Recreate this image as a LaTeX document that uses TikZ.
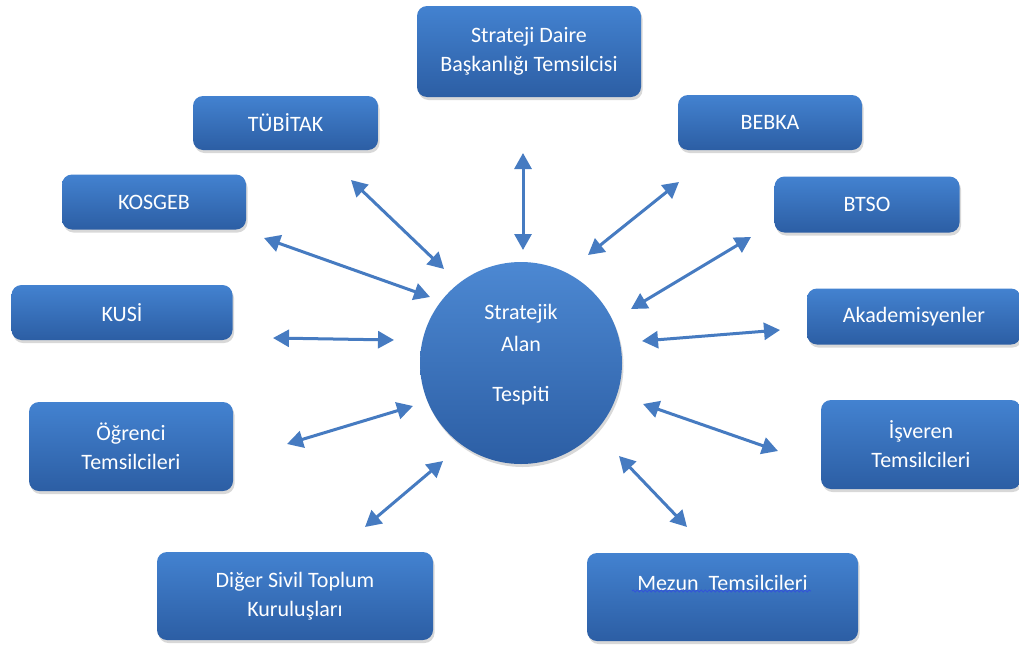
\documentclass[tikz,border=0pt]{standalone}
\usepackage{fontspec}
\setmainfont{Carlito}
\usetikzlibrary{arrows.meta,shadows,decorations.pathmorphing}
\definecolor{boxtop}{HTML}{4382D0}
\definecolor{boxbot}{HTML}{2C5EA4}
\definecolor{arr}{HTML}{467BC1}
\definecolor{wavy}{HTML}{3355D8}
\begin{document}
\begin{tikzpicture}[x=1pt,y=-1pt,
  box/.style={draw=none, rounded corners=10pt, top color=boxtop, bottom color=boxbot,
    text=white, font=\fontsize{22}{29}\selectfont, align=center, inner sep=0pt,
    drop shadow={opacity=0.3, shadow xshift=1.5pt, shadow yshift=-3pt}},
  circ/.style={circle, draw=none, inner sep=0pt, minimum size=202pt, top color=boxtop!95!white, bottom color=boxbot,
    drop shadow={opacity=0.3, shadow xshift=1.5pt, shadow yshift=-3pt}},
  ctext/.style={text=white, font=\fontsize{22}{32}\selectfont, align=center, inner sep=0pt},
  link/.style={draw=arr, line width=3pt, {Triangle[length=16pt,width=17pt]}-{Triangle[length=16pt,width=17pt]}},
  under/.style={draw=wavy, line width=0.9pt, decorate, decoration={snake, amplitude=1pt, segment length=4pt}}]
\useasboundingbox[fill=white] (0,0) rectangle (1019,648);

% boxes
\node[box, minimum width=224pt, minimum height=91pt] (sdb) at (529,51.5) {Strateji Daire\\Başkanlığı Temsilcisi};
\node[box, minimum width=185pt, minimum height=54pt] (tub) at (285.5,123) {TÜBİTAK};
\node[box, minimum width=184pt, minimum height=55pt] (beb) at (770,122.5) {BEBKA};
\node[box, minimum width=184pt, minimum height=55pt] (kos) at (154,202) {KOSGEB};
\node[box, minimum width=185pt, minimum height=56pt] (bts) at (867,204.5) {BTSO};
\node[box, minimum width=221pt, minimum height=55pt] (kus) at (122,312.5) {KUSİ};
\node[box, minimum width=214pt, minimum height=56pt] (aka) at (914,316.5) {Akademisyenler};
\node[box, minimum width=204pt, minimum height=89pt] (ogr) at (131,446.5) {Öğrenci\\Temsilcileri};
\node[box, minimum width=200pt, minimum height=89pt] (isv) at (921,444.5) {İşveren\\Temsilcileri};
\node[box, minimum width=276pt, minimum height=88pt] (dig) at (295,596) {Diğer Sivil Toplum\\Kuruluşları};
\node[box, minimum width=271pt, minimum height=88pt] (mez) at (722.5,597) {Mezun\ \ Temsilcileri\\\mbox{}};

% centre
\node[circ] (c) at (521,363) {};
\node[ctext] (ct) at (521,355) {Stratejik\\Alan\\[18pt]Tespiti};

% wavy underline
\coordinate (u1) at (632,591);
\coordinate (u2) at (811,591);
\draw[under] (u1) -- (u2);

% arrow ends
\coordinate (a1) at (523,153);  \coordinate (b1) at (523,250);
\coordinate (a2) at (351,180);  \coordinate (b2) at (444,269);
\coordinate (a3) at (679,182);  \coordinate (b3) at (588,255);
\coordinate (a4) at (264,238);  \coordinate (b4) at (430,297);
\coordinate (a5) at (751,237);  \coordinate (b5) at (631,309);
\coordinate (a6) at (273,338);  \coordinate (b6) at (394,340);
\coordinate (a7) at (642,341);  \coordinate (b7) at (780,330);
\coordinate (a8) at (287,444);  \coordinate (b8) at (413,406);
\coordinate (a9) at (643,404);  \coordinate (b9) at (778,451);
\coordinate (a10) at (365,527); \coordinate (b10) at (443,461);
\coordinate (a11) at (619,456); \coordinate (b11) at (687,527);

\foreach \i in {1,...,11}{\draw[link] (a\i) -- (b\i);}
\end{tikzpicture}
\end{document}
